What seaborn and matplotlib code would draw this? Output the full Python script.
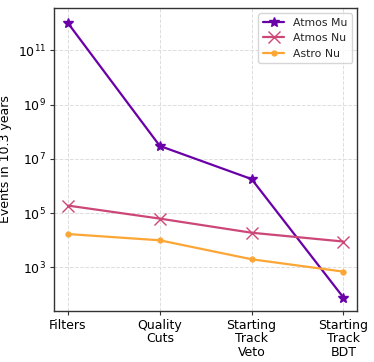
import numpy as np
import pandas as pd
import matplotlib
matplotlib.use("Agg")
import matplotlib.pyplot as plt
import seaborn as sns

sns.set_style("whitegrid")
plt.rcParams['font.family'] = ['DejaVu Sans']

# Data
stages = ["Filters", "Quality\nCuts", "Starting\nTrack\nVeto", "Starting\nTrack\nBDT"]
atmos_mu = [1.0e12, 3.0e7, 1.8e6, 78]
atmos_nu = [1.9e5, 6.3e4, 1.9e4, 9.0e3]
astro_nu = [1.7e4, 1.0e4, 2.0e3, 700]

series = {"Atmos Mu": atmos_mu, "Atmos Nu": atmos_nu, "Astro Nu": astro_nu}
colors = {"Atmos Mu": "#6a00a8", "Atmos Nu": "#cc4778", "Astro Nu": "#fca636"}
markers = {"Atmos Mu": "*", "Atmos Nu": "x", "Astro Nu": "."}
msizes = {"Atmos Mu": 7, "Atmos Nu": 8, "Astro Nu": 7}

fig, ax = plt.subplots(figsize=(3.74, 3.62), dpi=100)

for name, vals in series.items():
    df = pd.DataFrame({"x": np.arange(len(stages)), "y": vals})
    sns.lineplot(data=df, x="x", y="y", ax=ax, color=colors[name], marker=markers[name],
                 markersize=msizes[name], markeredgecolor=colors[name], markeredgewidth=1.0,
                 linewidth=1.6, label=name)

ax.set_yscale("log")
ax.set_ylim(10**1.41, 10**12.56)
ax.set_xticks(np.arange(len(stages)))
ax.set_xticklabels(stages, linespacing=1.05)
ax.set_xlabel("")
ax.set_ylabel("Events in 10.3 years", fontsize=9, color="black")
ax.set_yticks([1e3, 1e5, 1e7, 1e9, 1e11])
ax.yaxis.set_minor_locator(matplotlib.ticker.NullLocator())
ax.tick_params(axis="both", labelsize=9, length=3, color="#333333", labelcolor="black",
               left=True, bottom=True, pad=3)
ax.grid(True, which="major", linestyle="--", linewidth=0.7, color="#dddddd")
for sp in ax.spines.values():
    sp.set_edgecolor("#333333")
    sp.set_linewidth(1.0)

leg = ax.legend(loc="upper right", fontsize=7.8, frameon=True)
leg.get_frame().set_edgecolor("#cccccc")

fig.subplots_adjust(left=0.145, right=0.955, top=0.978, bottom=0.142)
fig.savefig("out.png", dpi=100)
